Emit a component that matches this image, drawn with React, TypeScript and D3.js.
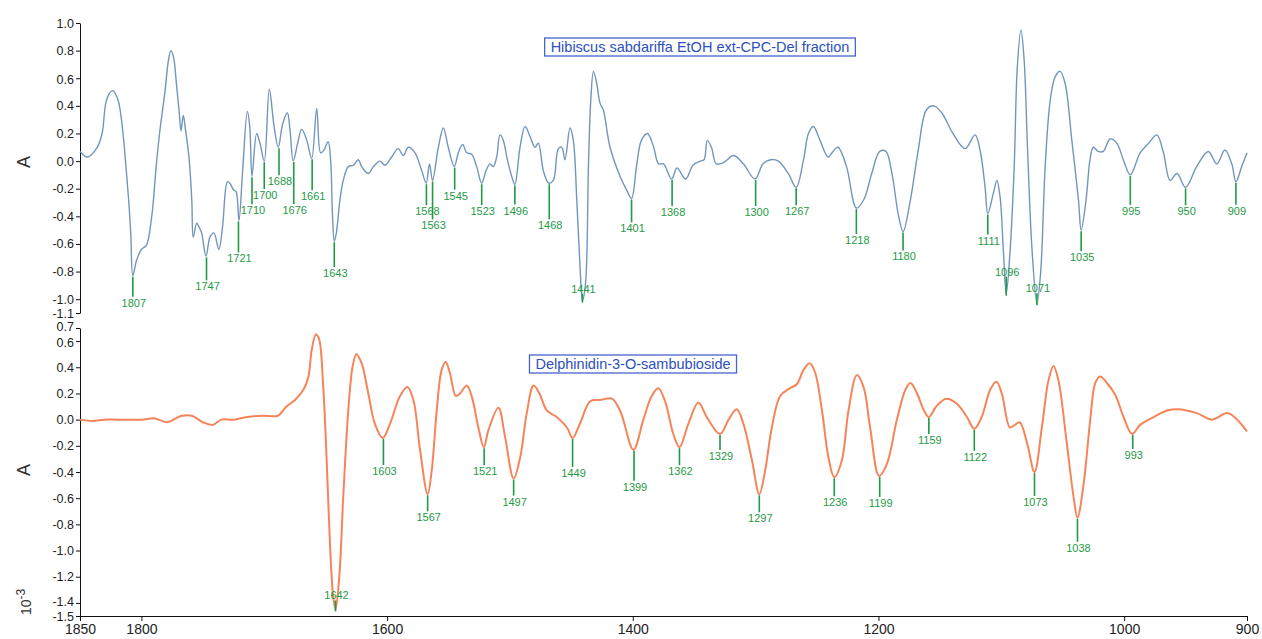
import { useEffect, useRef } from 'react';
import * as d3 from 'd3';

// second derivative spectra, [wavenumber cm-1, A x10^-3]
const hibiscusSpectrum: number[][] = [
  [1850, 0.07], [1844, 0.03], [1836, 0.10], [1832, 0.20], [1829, 0.42], [1826, 0.49], [1823.4, 0.51],
  [1819, 0.44], [1815, 0.20], [1812.6, -0.04], [1810.4, -0.28], [1808.7, -0.52], [1807, -0.83],
  [1804, -0.72], [1800, -0.64], [1796, -0.61], [1791.6, -0.40], [1788, -0.04], [1785, 0.22],
  [1781, 0.49], [1778, 0.73], [1776, 0.80], [1774, 0.76], [1771.3, 0.54], [1769.2, 0.35],
  [1767.8, 0.22], [1765.9, 0.33], [1764, 0.22], [1761.3, 0.03], [1759, -0.28], [1757.8, -0.55],
  [1755, -0.45], [1753, -0.48], [1751, -0.52], [1747.4, -0.69], [1744.2, -0.55], [1741, -0.52],
  [1737, -0.64], [1734, -0.48], [1730, -0.15], [1728, -0.16], [1725, -0.21], [1723, -0.22],
  [1720.6, -0.43], [1717.6, -0.07], [1713.8, 0.36], [1711.8, 0.25], [1710, -0.11], [1706.2, 0.20],
  [1703.5, 0.13], [1700, 0.0], [1695.9, 0.52], [1692, 0.25], [1688.6, 0.10], [1685, 0.27],
  [1681.2, 0.35], [1679, 0.22], [1676.4, 0.0], [1672.8, 0.13], [1669.5, 0.23], [1665.4, 0.15],
  [1661.4, 0.02], [1657.3, 0.38], [1654.1, 0.06], [1651.4, 0.08], [1648, 0.14], [1646, 0.01],
  [1644.5, -0.38], [1643, -0.58], [1641.3, -0.52], [1638.4, -0.28], [1635.7, -0.14], [1631.6, -0.04],
  [1627.5, -0.03], [1623.5, 0.01], [1620.7, -0.04], [1615.3, -0.09], [1611.2, -0.04], [1605.8, 0.0],
  [1601.7, -0.03], [1596.3, 0.03], [1591, 0.09], [1586.8, 0.04], [1582.7, 0.10], [1577.3, 0.06],
  [1571.8, -0.07], [1568.2, -0.16], [1565.5, -0.02], [1563, -0.14], [1558.3, 0.10], [1554.2, 0.24],
  [1550.2, 0.10], [1545.3, -0.04], [1542, 0.06], [1538.5, 0.12], [1535.2, 0.06], [1531.2, 0.05],
  [1527.1, -0.04], [1523, -0.16], [1519.5, -0.07], [1516.2, -0.02], [1513.6, -0.04], [1510.8, 0.03],
  [1508.1, 0.19], [1505.4, 0.15], [1502.1, 0.01], [1498.6, -0.11], [1496, -0.17], [1491.8, 0.10],
  [1487.7, 0.25], [1483.7, 0.18], [1479.6, 0.10], [1476.9, 0.13], [1472.8, -0.07], [1468.5, -0.16],
  [1464.7, -0.14], [1460.6, 0.09], [1457.8, 0.10], [1455.2, 0.01], [1451.1, 0.24], [1448.4, 0.15],
  [1445.6, -0.28], [1442.9, -0.77], [1441, -1.01], [1438.5, -0.89], [1436.1, -0.04], [1434.2, 0.44],
  [1432, 0.65], [1429.3, 0.56], [1426.7, 0.42], [1424, 0.37], [1418.5, 0.10], [1410.4, -0.11],
  [1405, -0.21], [1401, -0.27], [1397, -0.04], [1393, 0.15], [1388, 0.20], [1383, 0.10],
  [1379, -0.02], [1375, -0.02], [1368.4, -0.13], [1364, -0.05], [1357, -0.13], [1351, -0.03],
  [1345, 0.0], [1342, 0.01], [1339.3, 0.15], [1336, 0.10], [1332, -0.02], [1326, -0.01],
  [1318, 0.04], [1310, -0.02], [1300.5, -0.13], [1294, -0.02], [1288, 0.01], [1281.5, 0.0],
  [1273.4, -0.09], [1267, -0.19], [1261, 0.01], [1257, 0.20], [1253, 0.25], [1247.6, 0.15],
  [1241, 0.03], [1237, 0.07], [1233, 0.10], [1226, -0.04], [1218, -0.34], [1212, -0.28],
  [1205.5, -0.09], [1199, 0.07], [1194, 0.07], [1189, -0.09], [1184, -0.38], [1180, -0.51],
  [1174, -0.28], [1167.6, 0.08], [1161, 0.37], [1155, 0.40], [1148.5, 0.35], [1140, 0.21],
  [1129.5, 0.09], [1121.4, 0.19], [1117.3, 0.08], [1113.2, -0.19], [1111, -0.38], [1106.4, -0.23],
  [1103.6, -0.14], [1101, -0.26], [1098.2, -0.67], [1096, -0.96], [1093, -0.67], [1089.5, -0.04],
  [1087, 0.68], [1084, 0.95], [1081.4, 0.73], [1078.7, 0.10], [1075, -0.64], [1071, -1.03],
  [1068, -0.81], [1064.3, -0.04], [1060.2, 0.44], [1056.2, 0.61], [1052.1, 0.65], [1048, 0.56],
  [1042.6, 0.15], [1037.2, -0.28], [1035, -0.50], [1031, -0.28], [1027.8, 0.01], [1025.1, 0.10],
  [1021, 0.07], [1017, 0.07], [1011.5, 0.16], [1006, 0.13], [1000.7, 0.01], [995, -0.10],
  [987, 0.06], [980, 0.13], [973.4, 0.19], [968, 0.06], [962.6, -0.14], [957, -0.09], [950, -0.19],
  [941, -0.04], [931.5, 0.07], [924.6, -0.02], [918, 0.08], [912.4, -0.02], [909, -0.15],
  [904.3, -0.04], [900, 0.06],
];

const delphinidinSpectrum: number[][] = [
  [1850, 0.0], [1840, -0.01], [1830, 0.0], [1820, 0.0], [1810, 0.0], [1800, 0.0], [1790, 0.01],
  [1786, 0.0], [1779, -0.02], [1772, 0.01], [1767, 0.03], [1759, 0.03], [1750, -0.02], [1742, -0.04],
  [1735, 0.0], [1725, 0.0], [1714, 0.02], [1701, 0.03], [1689, 0.03], [1682, 0.10], [1675, 0.15],
  [1668, 0.23], [1664, 0.33], [1661.4, 0.53], [1658, 0.65], [1655.5, 0.62], [1652, 0.25],
  [1649.2, -0.31], [1646.5, -0.95], [1644, -1.34], [1642, -1.45], [1639, -1.21], [1635.6, -0.57],
  [1631.6, 0.07], [1628, 0.41], [1625, 0.50], [1620.7, 0.43], [1615.3, 0.20], [1610, -0.03],
  [1603.5, -0.14], [1597.6, -0.03], [1589.5, 0.18], [1583.5, 0.25], [1578.6, 0.15], [1573.2, -0.23],
  [1567, -0.57], [1563.7, -0.39], [1559.6, 0.07], [1555.6, 0.38], [1552.3, 0.44], [1549, 0.36],
  [1544, 0.18], [1540.6, 0.20], [1535.2, 0.26], [1531.2, 0.18], [1525.7, -0.06], [1521.3, -0.21],
  [1517.5, -0.08], [1509.4, 0.09], [1504, -0.13], [1497, -0.45], [1491.7, -0.29], [1486.3, 0.05],
  [1480.8, 0.26], [1476, 0.20], [1470, 0.07], [1462, 0.02], [1453.6, -0.06], [1449, -0.14],
  [1443, -0.03], [1434.6, 0.14], [1426.4, 0.15], [1417, 0.16], [1410, 0.06], [1399.5, -0.23],
  [1391.4, 0.0], [1384.6, 0.18], [1379.2, 0.24], [1373.7, 0.14], [1367, -0.11], [1362, -0.21],
  [1354.7, -0.03], [1346.6, 0.13], [1339.8, 0.02], [1329, -0.11], [1322, 0.0], [1315.4, 0.08],
  [1310, -0.03], [1303, -0.31], [1297, -0.57], [1292.3, -0.39], [1286.8, -0.06], [1280, 0.18],
  [1272, 0.24], [1266.5, 0.27], [1261, 0.38], [1256, 0.43], [1251.6, 0.36], [1246, 0.07],
  [1240.7, -0.29], [1236, -0.44], [1229.8, -0.31], [1224.4, 0.07], [1217.6, 0.34], [1212.2, 0.25],
  [1206.8, -0.06], [1199.5, -0.43], [1193.2, -0.34], [1185, 0.0], [1178, 0.23], [1174, 0.28],
  [1168.6, 0.20], [1163, 0.07], [1159, 0.02], [1153, 0.10], [1145, 0.16], [1136, 0.12],
  [1128, 0.02], [1122, -0.07], [1116, 0.02], [1109, 0.23], [1104, 0.29], [1099.6, 0.20],
  [1093, -0.06], [1089, -0.04], [1085, -0.02], [1079, -0.18], [1073, -0.40], [1067, -0.06],
  [1061.6, 0.30], [1057.5, 0.41], [1053.5, 0.30], [1046.7, -0.18], [1041.2, -0.59], [1038, -0.75],
  [1033, -0.49], [1027.6, 0.0], [1023.5, 0.28], [1019.5, 0.33], [1014, 0.28], [1007.3, 0.19],
  [1000.5, 0.02], [993.5, -0.11], [987, -0.04], [976, 0.02], [965, 0.07], [956, 0.08], [941, 0.05],
  [928.5, 0.0], [916, 0.05], [908, 0.0], [900, -0.09],
];

const hibiscusPeaks = [1807, 1747, 1721, 1710, 1700, 1688, 1676, 1661, 1643, 1568, 1563, 1545, 1523,
  1496, 1468, 1441, 1401, 1368, 1300, 1267, 1218, 1180, 1111, 1096, 1071, 1035, 995, 950, 909];
const delphinidinPeaks = [1642, 1603, 1567, 1521, 1497, 1449, 1399, 1362, 1329, 1297, 1236, 1199,
  1159, 1122, 1073, 1038, 993];

// where each peak label sits, px below (or above if negative) the curve
const hibiscusLabelDrop = [27, 30, 38, 34, 34, 34, 49, 38, 32, 28, 45, 29, 28, 26, 42, -12, 30, 33, 33,
  24, 32, 25, 27, -22, -15, 27, 36, 24, 29];
const delphinidinLabelDrop = [-14, 33, 23, 24, 23, 35, 37, 24, 22, 24, 25, 27, 23, 28, 30, 30, 21];

const xTicks = [1850, 1800, 1600, 1400, 1200, 1000, 900];
const hibiscusYTicks = [1.0, 0.8, 0.6, 0.4, 0.2, 0.0, -0.2, -0.4, -0.6, -0.8, -1.0, -1.1];
const delphinidinYTicks = [0.7, 0.6, 0.4, 0.2, 0.0, -0.2, -0.4, -0.6, -0.8, -1.0, -1.2, -1.4, -1.5];

const FONT = '"Liberation Sans", Arial, sans-serif';

// lowest point of the spectrum close to a labelled peak
const valueAt = (data: number[][], w: number) => {
  const near = data.filter((d) => Math.abs(d[0] - w) <= 1.6);
  if (near.length) return d3.min(near, (d) => d[1]) as number;
  for (let i = 0; i < data.length - 1; i++) {
    const [w0, a0] = data[i];
    const [w1, a1] = data[i + 1];
    if (w <= w0 && w >= w1) return a0 + ((a1 - a0) * (w0 - w)) / (w0 - w1);
  }
  return 0;
};

const App = () => {
  const svgRef = useRef<SVGSVGElement>(null);

  useEffect(() => {
    const svg = d3.select(svgRef.current);
    svg.selectAll('*').remove();

    const x = d3.scaleLinear().domain([1850, 900]).range([80, 1247]);

    const panels = [
      {
        data: hibiscusSpectrum, peaks: hibiscusPeaks, drops: hibiscusLabelDrop, ticks: hibiscusYTicks,
        domain: [-1.1, 1.0], range: [313, 23], color: '#7296bb', width: 1.4,
        title: 'Hibiscus sabdariffa EtOH ext-CPC-Del fraction', titleX: 700, titleY: 47, aY: 162,
      },
      {
        data: delphinidinSpectrum, peaks: delphinidinPeaks, drops: delphinidinLabelDrop, ticks: delphinidinYTicks,
        domain: [-1.5, 0.7], range: [616, 328], color: '#f5845a', width: 2,
        title: 'Delphinidin-3-O-sambubioside', titleX: 633, titleY: 364, aY: 470,
      },
    ];

    panels.forEach((p) => {
      const y = d3.scaleLinear().domain(p.domain).range(p.range);

      // y axis
      const ax = svg.append('g')
        .attr('transform', 'translate(80,0)')
        .call(d3.axisLeft(y).tickValues(p.ticks).tickSize(4).tickSizeOuter(0).tickPadding(2)
          .tickFormat((d: any) => (+d).toFixed(1)));
      ax.selectAll('text').attr('font-size', 12.5).attr('font-family', FONT).attr('fill', '#222');
      ax.selectAll('line,path').attr('stroke', '#111');
      // the two closely spaced end ticks are pushed apart a little
      ax.selectAll<SVGTextElement, number>('text')
        .attr('dy', (d) => (d === 0.7 || d === -1.4 ? '0.2em' : d === 0.6 ? '0.4em' : '0.32em'));

      svg.append('text')
        .attr('transform', `translate(30,${p.aY}) rotate(-90)`)
        .attr('text-anchor', 'middle')
        .attr('font-family', FONT)
        .attr('font-size', 18)
        .attr('fill', '#333')
        .text('A');

      // spectrum
      const line = d3.line<number[]>()
        .x((d) => x(d[0]))
        .y((d) => y(d[1]))
        .curve(d3.curveCatmullRom.alpha(0.5));
      svg.append('path')
        .attr('d', line(p.data))
        .attr('fill', 'none')
        .attr('stroke', p.color)
        .attr('stroke-width', p.width)
        .attr('stroke-linejoin', 'round');

      // peak labels
      const lab = svg.append('g').attr('font-family', FONT).attr('font-size', 11);
      p.peaks.forEach((w, i) => {
        const px = x(w);
        const cy = y(valueAt(p.data, w));
        const ty = cy + p.drops[i];
        const y1 = p.drops[i] > 0 ? cy + 1 : ty + 5;
        const y2 = p.drops[i] > 0 ? ty - 6 : cy + 2;
        lab.append('line')
          .attr('x1', px).attr('x2', px).attr('y1', y1).attr('y2', y2)
          .attr('stroke', '#1f9a45').attr('stroke-width', 1.6);
        lab.append('text')
          .attr('x', px + 1).attr('y', ty).attr('dy', '0.36em')
          .attr('text-anchor', 'middle')
          .attr('fill', '#1f9a45')
          .text(w);
      });

      // boxed title
      const t = svg.append('text')
        .attr('x', p.titleX).attr('y', p.titleY).attr('dy', '0.36em')
        .attr('text-anchor', 'middle')
        .attr('font-family', FONT)
        .attr('font-size', 14.5)
        .attr('fill', '#2c4fbf')
        .text(p.title);
      const bb = (t.node() as SVGTextElement).getBBox();
      svg.insert('rect', () => t.node())
        .attr('x', bb.x - 6).attr('y', p.titleY - 9)
        .attr('width', bb.width + 12).attr('height', 18)
        .attr('fill', '#fff')
        .attr('stroke', '#4565cc')
        .attr('stroke-width', 1.3);
    });

    // x axis
    const xa = svg.append('g')
      .attr('transform', 'translate(0,616)')
      .call(d3.axisBottom(x).tickValues(xTicks).tickSize(5).tickSizeOuter(0).tickFormat((d: any) => String(d)));
    xa.selectAll('text').attr('font-size', 14).attr('font-family', FONT).attr('fill', '#222');
    xa.selectAll('line,path').attr('stroke', '#111');

    // 10^-3 multiplier
    const m = svg.append('text')
      .attr('transform', 'translate(31,615) rotate(-90)')
      .attr('font-family', FONT)
      .attr('font-size', 14)
      .attr('fill', '#333');
    m.append('tspan').text('10');
    m.append('tspan').attr('dy', -6).attr('font-size', 12).text('-3');
  }, []);

  return (
    <svg
      ref={svgRef}
      width={1262}
      height={639}
      style={{ position: 'absolute', left: 0, top: 0, background: '#fff' }}
    />
  );
};

export default App;
